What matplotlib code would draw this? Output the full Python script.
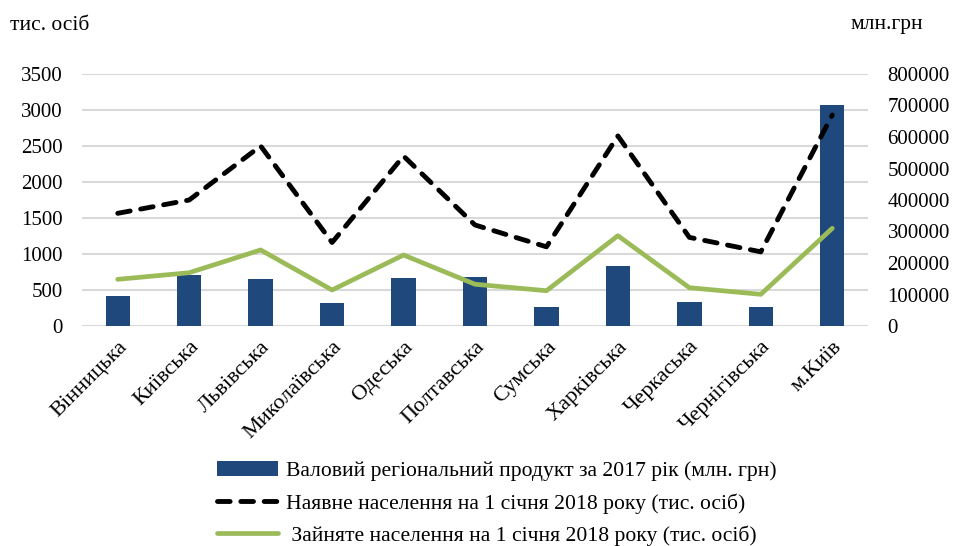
import numpy as np
import matplotlib
matplotlib.use("Agg")
import matplotlib.pyplot as plt
from matplotlib.transforms import blended_transform_factory

plt.rcParams['font.family'] = ['Liberation Serif', 'DejaVu Serif']

regions = ['Вінницька', 'Київська', 'Львівська', 'Миколаївська', 'Одеська',
           'Полтавська', 'Сумська', 'Харківська', 'Черкаська', 'Чернігівська', 'м.Київ']
grp_2017 = [95000, 161000, 150000, 72000, 152000, 154000, 59000, 190000, 76000, 59000, 701000]
population = [1565, 1750, 2500, 1160, 2360, 1403, 1100, 2640, 1231, 1030, 2930]
employed = [648, 740, 1056, 500, 986, 580, 490, 1254, 532, 440, 1357]

left_ticks = np.arange(0, 3501, 500)
right_ticks = np.arange(0, 800001, 100000)

fig = plt.figure(figsize=(9.54, 5.46), dpi=100)
ax = fig.add_axes([82 / 954, 1 - 326 / 546, 786 / 954, 252 / 546])
ax2 = ax.twinx()
ax.set_zorder(2)
ax.patch.set_visible(False)
ax2.set_zorder(1)

x = np.arange(len(regions))

# gridlines follow the left axis, drawn under the bars
tr = blended_transform_factory(ax2.transAxes, ax.transData)
for v in left_ticks:
    ax2.plot([0, 1], [v, v], transform=tr, color='#d9d9d9', lw=1.5, zorder=0)

bars = ax2.bar(x, grp_2017, width=0.34, color='#1f497d', zorder=2,
               label='Валовий регіональний продукт за 2017 рік (млн. грн)')
l1, = ax.plot(x, population, color='black', lw=3.5, ls=(0, (2.6, 2.2)),
              dash_capstyle='round',
              label='Наявне населення на 1 січня 2018 року (тис. осіб)')
l2, = ax.plot(x, employed, color='#9bbb59', lw=3.4, solid_capstyle='round',
              label=' Зайняте населення на 1 січня 2018 року (тис. осіб)')

ax.set_xlim(-0.5, len(regions) - 0.5)
ax.set_ylim(0, 3500)
ax2.set_ylim(0, 800000)
ax.set_yticks(left_ticks)
ax2.set_yticks(right_ticks)
ax.set_xticks(x)
ax.set_xticklabels(regions, rotation=45, ha='right', rotation_mode='anchor',
                   fontsize=16)

for a in (ax, ax2):
    for s in a.spines.values():
        s.set_visible(False)
    a.tick_params(length=0, labelsize=15)
ax.tick_params(axis='y', pad=14)
ax.tick_params(axis='x', pad=8, labelsize=16)
ax2.tick_params(axis='y', pad=14)

fig.text(10 / 954, 1 - 25 / 546, 'тис. осіб', fontsize=15.5, va='center', ha='left')
fig.text(923 / 954, 1 - 25 / 546, 'млн.грн', fontsize=15.5, va='center', ha='right')

fig.legend(handles=[bars, l1, l2], loc='upper left', bbox_to_anchor=(217 / 954, 1 - 461 / 546),
           frameon=False, fontsize=15.6, handlelength=2.8, handletextpad=0.4,
           labelspacing=0.55, borderaxespad=0, borderpad=0)

fig.savefig('out.png', dpi=100)
